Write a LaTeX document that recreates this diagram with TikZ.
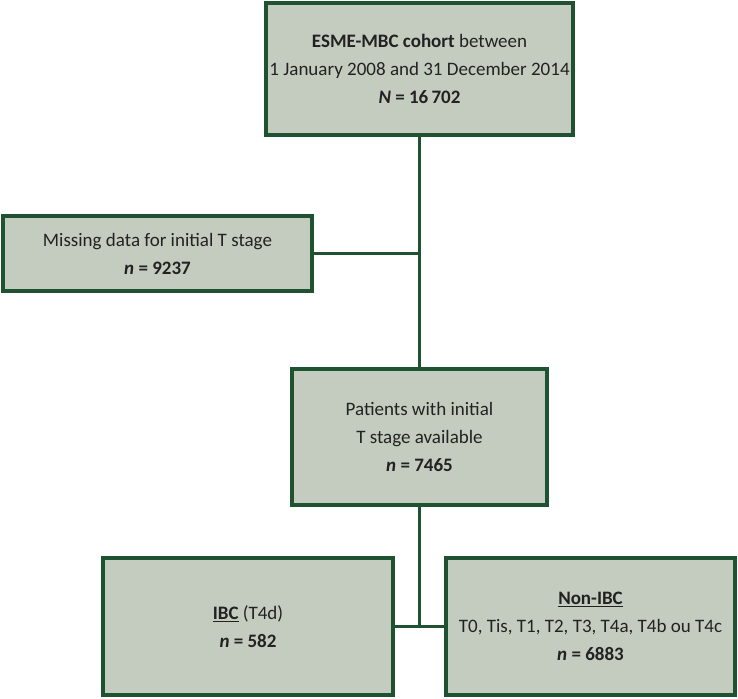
\documentclass[tikz,border=0pt]{standalone}
\usepackage{fontspec}
\setmainfont{Carlito}
\definecolor{boxline}{HTML}{1F5230}
\definecolor{boxfill}{HTML}{C3CCBF}
\definecolor{txt}{HTML}{222222}
\begin{document}
\begin{tikzpicture}[x=1pt,y=-1pt,
  box/.style={draw=boxline,fill=boxfill,line width=4pt,align=center,
    text=txt,font=\fontsize{19}{28}\selectfont,inner sep=0pt},
  conn/.style={draw=boxline,line width=3pt}]
\useasboundingbox (0,0) rectangle (738,698);
\node[box,minimum width=307,minimum height=132] (top) at (419.5,69)
  {\textbf{ESME-MBC cohort} between\\1 January 2008 and 31 December 2014\\\textbf{\textit{N} = 16\,702}};
\node[box,minimum width=309,minimum height=75] (miss) at (157.5,253.5)
  {Missing data for initial T stage\\\textbf{\textit{n} = 9237}};
\node[box,minimum width=255,minimum height=136] (mid) at (419.5,437)
  {Patients with initial\\T stage available\\\textbf{\textit{n} = 7465}};
\node[box,minimum width=290,minimum height=137] (ibc) at (248,626.5)
  {\underline{\textbf{IBC}} (T4d)\\\textbf{\textit{n} = 582}};
\node[box,minimum width=289,minimum height=137] (nonibc) at (590.5,626.5)
  {\underline{\textbf{Non-IBC}}\\T0, Tis, T1, T2, T3, T4a, T4b ou T4c\\\textbf{\textit{n} = 6883}};
\coordinate (j) at (mid.south |- ibc.east);
\begin{scope}[on background layer/.try]
\draw[conn] (top.south) -- (mid.north);
\draw[conn] (miss.east) -- (top.south |- miss.east);
\draw[conn] (mid.south) -- (j);
\draw[conn] (ibc.east) -- (nonibc.west);
\end{scope}
\end{tikzpicture}
\end{document}
